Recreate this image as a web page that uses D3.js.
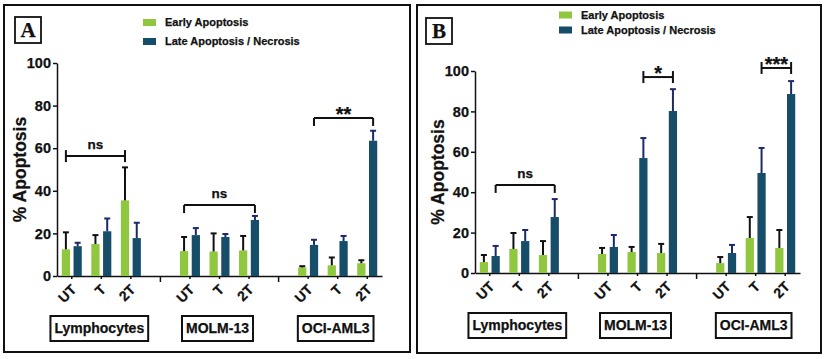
<!DOCTYPE html>
<html>
<head>
<meta charset="utf-8">
<script src="https://cdn.jsdelivr.net/npm/d3@7"></script>
<style>
body { margin: 0; background: #fff; }
svg { display: block; }
text { font-family: 'Liberation Sans', Arial, sans-serif; font-weight: bold; fill: #111; stroke: #111; stroke-width: 0.25px; }
</style>
</head>
<body>
<div id="chart"></div>
<script>
const groups = ['Lymphocytes', 'MOLM-13', 'OCI-AML3']
const treatments = ['UT', 'T', '2T']
const seriesNames = ['Early Apoptosis', 'Late Apoptosis / Necrosis']
const yTicks = [0, 20, 40, 60, 80, 100]

// values per group x treatment (Lymph UT,T,2T, MOLM UT,T,2T, OCI UT,T,2T); err = upper whisker size
const earlyA = [12.5, 15, 35.5, 11.7, 11.5, 12, 4, 5, 6]
const earlyErrA = [8, 4.2, 15.5, 6.6, 8.5, 6.8, 0.6, 3.7, 1.4]
const lateA = [14, 21, 17.8, 19.2, 18.3, 26.3, 14.6, 16.4, 63.5]
const lateErrA = [1.6, 6, 7.2, 3.3, 1.4, 1.9, 2.4, 2.4, 4.7]

const earlyB = [5.4, 11.9, 8.9, 9.4, 10.4, 9.9, 4.9, 17.3, 12.4]
const earlyErrB = [3.5, 7.9, 6.9, 3, 2.5, 4.5, 3, 10.4, 8.9]
const lateB = [8.4, 15.8, 27.7, 12.9, 56.9, 80.2, 9.9, 49.5, 88.6]
const lateErrB = [5, 5.5, 8.9, 5.9, 9.9, 10.8, 4, 12.4, 6.4]

// significance brackets: [group, treatment, series] ends, height in % units
const bracketsA = [
    { from: ['Lymphocytes', 'UT', 'early'], to: ['Lymphocytes', '2T', 'early'], y: 56.3, label: 'ns', ends: 'both' },
    { from: ['MOLM-13', 'UT', 'early'], to: ['MOLM-13', '2T', 'late'], y: 33.3, label: 'ns', ends: 'down' },
    { from: ['OCI-AML3', 'UT', 'late'], to: ['OCI-AML3', '2T', 'late'], y: 74.2, label: '**', ends: 'down' }
]
const bracketsB = [
    { from: ['Lymphocytes', 'UT', 'late'], to: ['Lymphocytes', '2T', 'late'], y: 43.6, label: 'ns', ends: 'down' },
    { from: ['MOLM-13', 'T', 'late'], to: ['MOLM-13', '2T', 'late'], y: 97, label: '*', ends: 'both' },
    { from: ['OCI-AML3', 'T', 'late'], to: ['OCI-AML3', '2T', 'late'], y: 101.5, label: '***', ends: 'both' }
]

const colors = { early: '#8fc73e', late: '#164d68' }
const errColors = { early: '#111', late: '#1c2a66' }

const svg = d3.select('#chart').append('svg')
    .attr('width', 825)
    .attr('height', 359)

// x slots: three treatments per group, an empty slot between groups
const slots = []
groups.forEach((g, i) => {
    if (i > 0) slots.push('gap' + i)
    treatments.forEach(t => slots.push(g + '|' + t))
})

const drawPanel = (p) => {
    const g = svg.append('g')
    const x = d3.scaleBand().domain(slots).range(p.xRange)
    const xs = d3.scaleBand().domain(['early', 'late']).range([-10, 10]).paddingInner(0.3)
    const y = d3.scaleLinear().domain([0, 100]).range(p.yRange)
    const cx = (k) => x(k) + x.bandwidth() / 2
    const barCenter = (k, s) => cx(k) + xs(s) + xs.bandwidth() / 2

    const rows = []
    groups.forEach((grp, gi) => treatments.forEach((t, ti) => {
        const i = gi * 3 + ti
        rows.push({ key: grp + '|' + t, s: 'early', v: p.early[i], e: p.earlyErr[i] })
        rows.push({ key: grp + '|' + t, s: 'late', v: p.late[i], e: p.lateErr[i] })
    }))

    // frame
    g.append('rect')
        .attr('x', p.frame[0]).attr('y', p.frame[1])
        .attr('width', p.frame[2] - p.frame[0]).attr('height', p.frame[3] - p.frame[1])
        .attr('fill', 'none').attr('stroke', '#111').attr('stroke-width', 2)

    // panel letter
    g.append('rect')
        .attr('x', p.letterPos[0]).attr('y', p.letterPos[1])
        .attr('width', 26).attr('height', 26)
        .attr('fill', 'none').attr('stroke', '#111').attr('stroke-width', 1.8)
    g.append('text')
        .attr('x', p.letterPos[0] + 13).attr('y', p.letterPos[1] + 20)
        .attr('text-anchor', 'middle')
        .style('font-family', "'Liberation Serif', 'Times New Roman', serif")
        .style('font-size', '21px')
        .text(p.letter)

    // legend
    const leg = g.append('g').attr('transform', 'translate(' + p.legendPos[0] + ',' + p.legendPos[1] + ')')
    seriesNames.forEach((name, i) => {
        leg.append('rect')
            .attr('x', 0).attr('y', i * p.legendGap - 3.5)
            .attr('width', 13).attr('height', 7)
            .attr('fill', i === 0 ? colors.early : colors.late)
        leg.append('text')
            .attr('x', 22).attr('y', i * p.legendGap)
            .attr('dy', '0.35em')
            .style('font-size', '11px')
            .text(name)
    })

    // y axis
    const yAxis = g.append('g')
        .attr('transform', 'translate(' + p.xRange[0] + ',0)')
        .call(d3.axisLeft(y).tickValues(yTicks).tickSize(4).tickSizeOuter(0).tickPadding(2))
    yAxis.selectAll('path, line').attr('stroke', '#111').attr('stroke-width', 1.5)
    yAxis.selectAll('text').style('font-size', '14.5px').attr('fill', '#111').style('font-family', "'Liberation Sans', Arial, sans-serif")

    g.append('text')
        .attr('transform', 'translate(' + (p.xRange[0] - 37) + ',' + ((p.yRange[0] + p.yRange[1]) / 2) + ') rotate(-90)')
        .attr('text-anchor', 'middle')
        .attr('dy', '0.35em')
        .style('font-size', '17.5px')
        .text('% Apoptosis')

    // x axis
    const xAxis = g.append('g')
        .attr('transform', 'translate(0,' + y(0) + ')')
        .call(d3.axisBottom(x).tickSize(3).tickSizeOuter(0)
            .tickFormat(k => k.startsWith('gap') ? '' : k.split('|')[1]))
    xAxis.selectAll('path, line').attr('stroke', '#111').attr('stroke-width', 1.5)
    xAxis.selectAll('.tick').filter(k => k.startsWith('gap')).select('line').attr('y2', 6)
    xAxis.selectAll('text')
        .attr('x', 0).attr('y', 0).attr('dy', '0.35em')
        .attr('transform', 'translate(2,11) rotate(-45)')
        .attr('text-anchor', 'end')
        .attr('fill', '#111')
        .style('font-size', '14px')
        .style('font-family', "'Liberation Sans', Arial, sans-serif")

    // bars
    g.append('g').selectAll('rect')
        .data(rows).enter().append('rect')
        .attr('x', d => cx(d.key) + xs(d.s))
        .attr('width', xs.bandwidth())
        .attr('y', d => y(d.v))
        .attr('height', d => y(0) - y(d.v))
        .attr('fill', d => colors[d.s])

    // upper error whiskers
    const err = g.append('g').selectAll('g').data(rows).enter().append('g')
        .attr('stroke', d => errColors[d.s]).attr('stroke-width', 2)
    err.append('line')
        .attr('x1', d => barCenter(d.key, d.s)).attr('x2', d => barCenter(d.key, d.s))
        .attr('y1', d => y(d.v)).attr('y2', d => y(d.v + d.e))
    err.append('line')
        .attr('x1', d => barCenter(d.key, d.s) - 3).attr('x2', d => barCenter(d.key, d.s) + 3)
        .attr('y1', d => y(d.v + d.e)).attr('y2', d => y(d.v + d.e))

    // significance brackets
    p.brackets.forEach(b => {
        const x1 = barCenter(b.from[0] + '|' + b.from[1], b.from[2])
        const x2 = barCenter(b.to[0] + '|' + b.to[1], b.to[2])
        const by = y(b.y)
        const top = b.ends === 'both' ? by - 6 : by
        const bottom = b.ends === 'both' ? by + 6 : by + 8
        const br = g.append('g').attr('stroke', '#111').attr('stroke-width', 2).attr('fill', 'none')
        br.append('line').attr('x1', x1).attr('x2', x2).attr('y1', by).attr('y2', by)
        br.append('line').attr('x1', x1).attr('x2', x1).attr('y1', top).attr('y2', bottom)
        br.append('line').attr('x1', x2).attr('x2', x2).attr('y1', top).attr('y2', bottom)
        const stars = b.label.includes('*')
        g.append('text')
            .attr('x', (x1 + x2) / 2)
            .attr('y', stars ? by + 3 : by - 7)
            .attr('text-anchor', 'middle')
            .style('font-size', stars ? '20px' : '13.5px')
            .text(b.label)
    })

    // cell line boxes
    groups.forEach(grp => {
        const gx = cx(grp + '|T') - 2
        const gy = y(0) + 40
        const t = g.append('text')
            .attr('x', gx).attr('y', gy + 12.5)
            .attr('dy', '0.35em')
            .attr('text-anchor', 'middle')
            .style('font-size', '14px')
            .text(grp)
        const w = t.node().getComputedTextLength() + 8
        g.insert('rect', 'text')
            .attr('x', gx - w / 2).attr('y', gy)
            .attr('width', w).attr('height', 25)
            .attr('fill', 'none').attr('stroke', '#111').attr('stroke-width', 2)
    })
}

drawPanel({
    letter: 'A', frame: [4, 5, 410, 352], letterPos: [15, 17],
    legendPos: [143, 22.5], legendGap: 19,
    xRange: [57, 382], yRange: [276, 63],
    early: earlyA, earlyErr: earlyErrA, late: lateA, lateErr: lateErrA,
    brackets: bracketsA
})

drawPanel({
    letter: 'B', frame: [417, 5, 821, 353], letterPos: [426, 18],
    legendPos: [559, 15], legendGap: 15,
    xRange: [475, 800], yRange: [273, 71],
    early: earlyB, earlyErr: earlyErrB, late: lateB, lateErr: lateErrB,
    brackets: bracketsB
})
</script>
</body>
</html>
